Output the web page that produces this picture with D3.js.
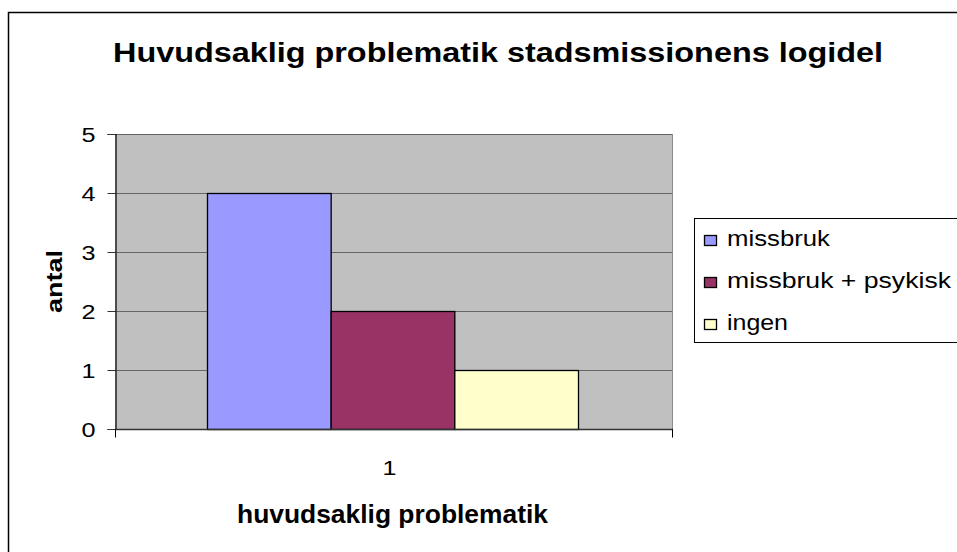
<!DOCTYPE html>
<html>
<head>
<meta charset="utf-8">
<script src="https://cdn.jsdelivr.net/npm/d3@7"></script>
<style>
body { margin: 0; background: #fff; }
text { font-family: Arial, "Liberation Sans", sans-serif; fill: #000; }
</style>
</head>
<body>
<svg id="chart" width="957" height="552"></svg>
<script>
// data
var categories = ["1"];
var seriesNames = ["missbruk", "missbruk + psykisk", "ingen"];
var seriesValues = [4, 2, 1];
var seriesColors = ["#9999FF", "#993366", "#FFFFCC"];
var yTicks = [0, 1, 2, 3, 4, 5];
var legendWidths = [103, 224, 61];

var svg = d3.select("#chart");

// outer frame (runs off the right and bottom edge)
svg.append("rect")
	.attr("x", 8.5).attr("y", 12.5)
	.attr("width", 1000).attr("height", 1000)
	.attr("fill", "#fff").attr("stroke", "#000").attr("stroke-width", 1.5);

var plot = {left: 115, top: 134, right: 672, bottom: 429};

var y = d3.scaleLinear().domain([0, 5]).range([plot.bottom, plot.top]);
var x = d3.scaleBand().domain(categories).range([plot.left, plot.right]);
var xs = d3.scaleBand().domain(seriesNames)
	.range([92, x.bandwidth() - 94]);

// plot background
svg.append("rect")
	.attr("x", plot.left).attr("y", plot.top)
	.attr("width", plot.right - plot.left).attr("height", plot.bottom - plot.top)
	.attr("fill", "#C0C0C0");

// gridlines
svg.append("g").selectAll("line")
	.data(yTicks.filter(function(d){ return d > 0; }))
	.enter().append("line")
	.attr("x1", plot.left).attr("x2", plot.right)
	.attr("y1", function(d){ return Math.round(y(d)) + 0.5; })
	.attr("y2", function(d){ return Math.round(y(d)) + 0.5; })
	.attr("stroke", "#666").attr("stroke-width", 1);

// right edge of plot
svg.append("line")
	.attr("x1", plot.right + 0.5).attr("x2", plot.right + 0.5)
	.attr("y1", plot.top).attr("y2", plot.bottom)
	.attr("stroke", "#8c8c8c");

// bars
svg.append("g").selectAll("rect")
	.data(seriesValues)
	.enter().append("rect")
	.attr("x", function(d, i){ return x("1") + xs(seriesNames[i]) + 0.5; })
	.attr("y", function(d){ return y(d) + 0.5; })
	.attr("width", xs.bandwidth())
	.attr("height", function(d){ return y(0) - y(d); })
	.attr("fill", function(d, i){ return seriesColors[i]; })
	.attr("stroke", "#000").attr("stroke-width", 1.3);

// y axis
var yAxis = d3.axisLeft(y).tickValues(yTicks).tickSize(8).tickPadding(20).tickFormat(d3.format("d"));
var gy = svg.append("g")
	.attr("transform", "translate(" + (plot.left + 0.5) + ",0)")
	.call(yAxis);
gy.select(".domain").attr("stroke", "#000").attr("stroke-width", 1.2);
gy.selectAll(".tick line").attr("stroke", "#333");
gy.selectAll("text")
	.style("font-size", "20px")
	.attr("x", -20)
	.attr("dy", "0.35em")
	.attr("textLength", 14)
	.attr("lengthAdjust", "spacingAndGlyphs");

// x axis
var gx = svg.append("g")
	.attr("transform", "translate(0," + (plot.bottom + 0.5) + ")");
gx.append("line")
	.attr("x1", plot.left).attr("x2", plot.right + 1)
	.attr("stroke", "#333").attr("stroke-width", 1.5);
gx.selectAll(".xtick")
	.data([plot.left, plot.right])
	.enter().append("line")
	.attr("x1", function(d){ return d + 0.5; }).attr("x2", function(d){ return d + 0.5; })
	.attr("y1", 0).attr("y2", 8)
	.attr("stroke", "#000");
gx.selectAll(".xlab")
	.data(categories)
	.enter().append("text")
	.attr("x", function(d){ return x(d) + x.bandwidth() / 2 - 4; })
	.attr("y", 45.5)
	.attr("text-anchor", "middle")
	.style("font-size", "21px")
	.attr("textLength", 14)
	.attr("lengthAdjust", "spacingAndGlyphs")
	.text(function(d){ return d; });

// titles
svg.append("text")
	.attr("x", 113).attr("y", 62)
	.style("font-size", "28px").style("font-weight", "bold")
	.attr("textLength", 770)
	.attr("lengthAdjust", "spacingAndGlyphs")
	.text("Huvudsaklig problematik stadsmissionens logidel");

svg.append("text")
	.attr("x", 237).attr("y", 523)
	.style("font-size", "25px").style("font-weight", "bold")
	.attr("textLength", 311)
	.attr("lengthAdjust", "spacingAndGlyphs")
	.text("huvudsaklig problematik");

svg.append("text")
	.attr("transform", "translate(62,313) rotate(-90)")
	.style("font-size", "22px").style("font-weight", "bold")
	.attr("textLength", 63)
	.attr("lengthAdjust", "spacingAndGlyphs")
	.text("antal");

// legend
var legend = svg.append("g");
legend.append("rect")
	.attr("x", 694.5).attr("y", 218.5)
	.attr("width", 300).attr("height", 124)
	.attr("fill", "#fff").attr("stroke", "#000").attr("stroke-width", 1);

var items = legend.selectAll(".item")
	.data(seriesNames)
	.enter().append("g")
	.attr("transform", function(d, i){ return "translate(704," + (246 + i * 42) + ")"; });
items.append("rect")
	.attr("x", 0.5).attr("y", -10.5)
	.attr("width", 12).attr("height", 10)
	.attr("fill", function(d, i){ return seriesColors[i]; })
	.attr("stroke", "#000").attr("stroke-width", 1.3);
items.append("text")
	.attr("x", 23).attr("y", 0)
	.style("font-size", "22px")
	.attr("textLength", function(d, i){ return legendWidths[i]; })
	.attr("lengthAdjust", "spacingAndGlyphs")
	.text(function(d){ return d; });
</script>
</body>
</html>
